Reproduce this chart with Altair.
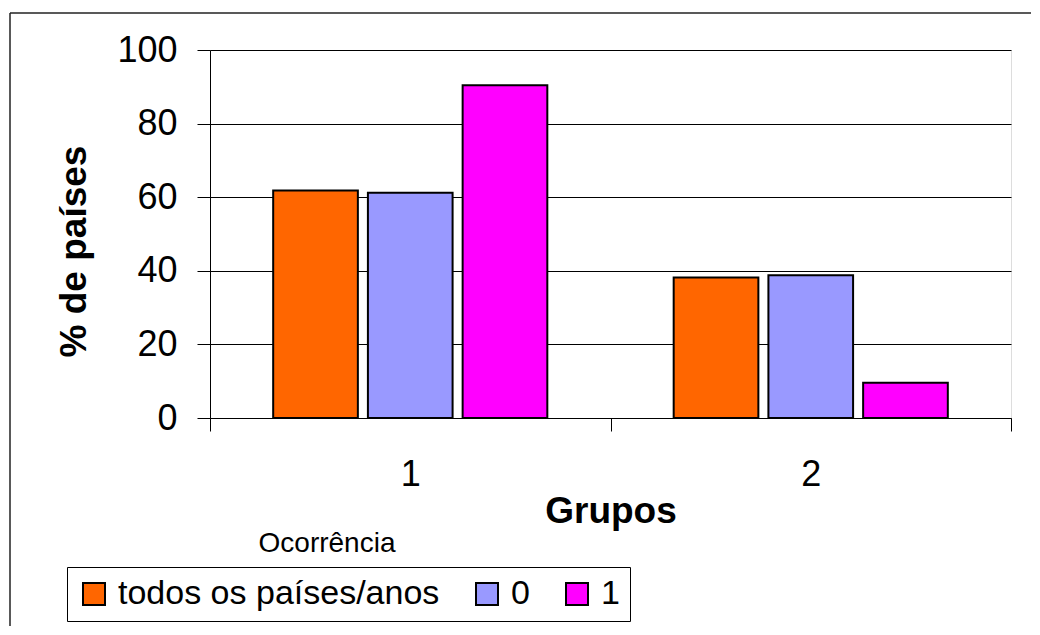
import altair as alt
import pandas as pd

groups = ["1", "2"]
series = ["todos os países/anos", "0", "1"]
colors = ["#FF6600", "#9999FF", "#FF00FF"]
todos = [61.8, 38.2]
zero = [61.2, 38.8]
one = [90.4, 9.6]

rows = []
for i, g in enumerate(groups):
    for s, vals in zip(series, [todos, zero, one]):
        rows.append({"Grupo": g, "Ocorrência": s, "pct": vals[i]})
df = pd.DataFrame(rows)

FONT = "Liberation Sans"

bars = alt.Chart(df).mark_bar(stroke="black", strokeWidth=2).encode(
    x=alt.X(
        "Grupo:N",
        sort=groups,
        scale=alt.Scale(paddingInner=0, paddingOuter=0),
        axis=alt.Axis(
            title="Grupos", labelAngle=0, tickBand="extent", tickSize=13,
            labelPadding=26, labelFontSize=36, labelFont=FONT, labelColor="black",
            titleFontSize=37, titleFont=FONT, titleFontWeight="bold", titleColor="black",
            titleX=400.5, titleY=104, titleBaseline="alphabetic", titleAlign="center",
            domainColor="black", tickColor="black", grid=False,
        ),
    ),
    xOffset=alt.XOffset(
        "Ocorrência:N", sort=series,
        scale=alt.Scale(paddingInner=0.106, paddingOuter=0.667),
    ),
    y=alt.Y(
        "pct:Q",
        scale=alt.Scale(domain=[0, 100], nice=False),
        axis=alt.Axis(
            title="% de países", values=[0, 20, 40, 60, 80, 100], tickSize=13,
            labelPadding=20, labelFontSize=36, labelFont=FONT, labelColor="black",
            titleFontSize=37, titleFont=FONT, titleFontWeight="bold", titleColor="black",
            titleX=-125, titleY=201, titleAngle=-90, titleBaseline="alphabetic",
            titleAlign="center", domainColor="black", tickColor="black",
            grid=True, gridColor="black", gridOpacity=1, gridWidth=1,
        ),
    ),
    color=alt.Color(
        "Ocorrência:N", sort=series,
        scale=alt.Scale(domain=series, range=colors),
        legend=alt.Legend(
            title=None, orient="none", legendX=-143, legendY=517,
            direction="horizontal", strokeColor="black", padding=10,
            symbolType="square", symbolSize=484, symbolStrokeColor="black",
            symbolStrokeWidth=2, symbolOpacity=1,
            labelFontSize=34, labelFont=FONT, labelColor="black",
            labelOffset=7, columnPadding=30, labelLimit=1000,
        ),
    ),
)

title_df = pd.DataFrame({"t": ["Ocorrência"]})
legend_title = alt.Chart(title_df).mark_text(
    fontSize=28, font=FONT, color="black", align="center", baseline="alphabetic"
).encode(x=alt.value(117), y=alt.value(501.7), text="t:N")

frame_df = pd.DataFrame({"a": [0]})
frame_left = alt.Chart(frame_df).mark_rule(color="#222222", strokeWidth=1.5).encode(
    x=alt.value(-200), y=alt.value(-37), y2=alt.value(620)
)
frame_top = alt.Chart(frame_df).mark_rule(color="#222222", strokeWidth=1.5).encode(
    x=alt.value(-200), x2=alt.value(840), y=alt.value(-37)
)

chart = alt.layer(bars, legend_title, frame_left, frame_top).properties(
    width=801, height=368,
    padding={"left": 202, "top": 42, "right": 20, "bottom": 208},
    autosize="none",
).configure_view(stroke="black", strokeWidth=1).configure(
    font=FONT, background="white"
)

chart.save("out.html", embed_options={"renderer": "svg", "actions": False})
